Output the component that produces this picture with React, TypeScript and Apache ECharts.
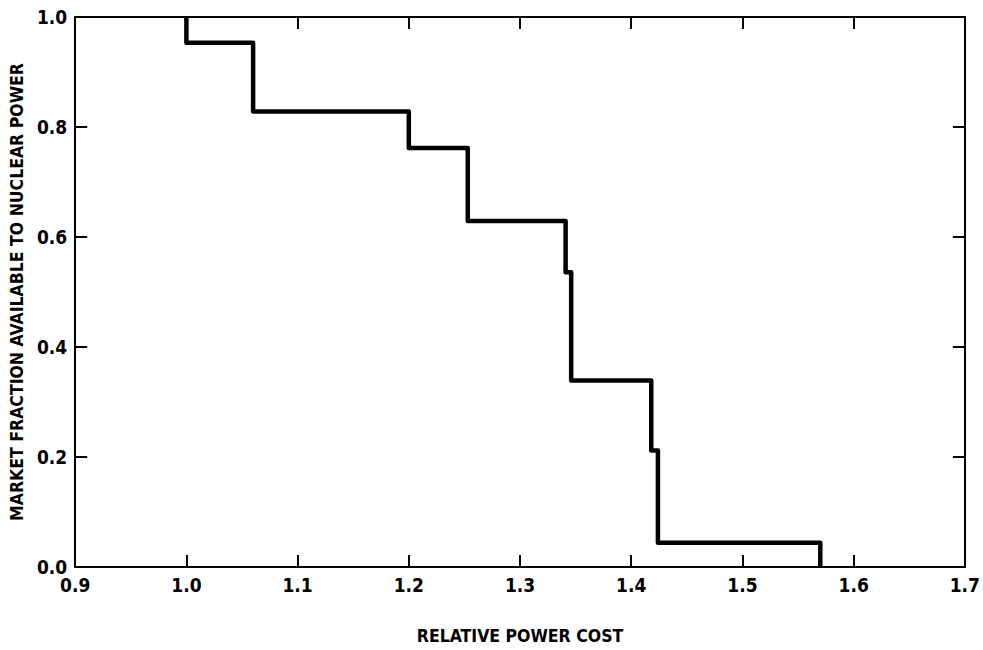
import React, { useEffect, useRef } from "react";
import * as echarts from "echarts";

// Step curve: relative power cost (x) vs market fraction available to nuclear power (y)
const costs = [1.0, 1.0, 1.06, 1.2, 1.253, 1.341, 1.346, 1.418, 1.424, 1.57];
const fractions = [1.0, 0.953, 0.828, 0.762, 0.629, 0.536, 0.339, 0.212, 0.044, 0.0];

const xTicks = ["0.9", "1.0", "1.1", "1.2", "1.3", "1.4", "1.5", "1.6", "1.7"];
const yTicks = ["0.0", "0.2", "0.4", "0.6", "0.8", "1.0"];

const xTitle = "RELATIVE POWER COST";
const yTitle = "MARKET FRACTION AVAILABLE TO NUCLEAR POWER";

const FONT = "'DejaVu Sans Condensed', 'Liberation Sans Narrow', 'DejaVu Sans', sans-serif";

export default function App() {
  const ref = useRef<HTMLDivElement>(null);
  useEffect(() => {
    if (!ref.current) return;
    const chart = echarts.init(ref.current, null, { renderer: "svg" });
    const axisLine = { show: true, onZero: false, lineStyle: { color: "#000", width: 2 } };
    const axisTick = { show: true, inside: true, length: 12, lineStyle: { color: "#000", width: 2 } };
    const labelStyle = { color: "#000", fontFamily: FONT, fontWeight: "bold" as const, fontSize: 19 };
    const titleStyle = { color: "#000", fontFamily: FONT, fontWeight: "bold" as const, fontSize: 17.5 };
    const fmt = (v: number) => v.toFixed(1);
    chart.setOption({
      animation: false,
      backgroundColor: "#fff",
      grid: { left: 72, right: 16, top: 17, bottom: 77, containLabel: false },
      xAxis: [
        {
          type: "value",
          position: "bottom",
          min: 0.9,
          max: 1.7,
          interval: 0.1,
          axisLine,
          axisTick,
          splitLine: { show: false },
          axisLabel: {
            ...labelStyle,
            margin: 8,
            formatter: (v: number) => {
              const s = fmt(v);
              return xTicks.includes(s) ? s : "";
            },
          },
          name: xTitle,
          nameLocation: "middle",
          nameGap: 60,
          nameTextStyle: titleStyle,
        },
        {
          type: "value",
          position: "top",
          min: 0.9,
          max: 1.7,
          interval: 0.1,
          axisLine,
          axisTick,
          axisLabel: { show: false },
          splitLine: { show: false },
        },
      ],
      yAxis: [
        {
          type: "value",
          position: "left",
          min: 0,
          max: 1,
          interval: 0.2,
          axisLine,
          axisTick,
          splitLine: { show: false },
          axisLabel: {
            ...labelStyle,
            margin: 8,
            formatter: (v: number) => {
              const s = fmt(v);
              return yTicks.includes(s) ? s : "";
            },
          },
          name: yTitle,
          nameLocation: "middle",
          nameGap: 44,
          nameTextStyle: titleStyle,
        },
        {
          type: "value",
          position: "right",
          min: 0,
          max: 1,
          interval: 0.2,
          axisLine,
          axisTick,
          axisLabel: { show: false },
          splitLine: { show: false },
        },
      ],
      series: [
        {
          type: "line",
          step: "end",
          xAxisIndex: 0,
          yAxisIndex: 0,
          data: costs.map((c, i) => [c, fractions[i]]),
          showSymbol: false,
          symbol: "none",
          lineStyle: { color: "#000", width: 4.5, join: "round" },
        },
      ],
    });
    return () => chart.dispose();
  }, []);
  return (
    <div
      ref={ref}
      style={{ position: "fixed", left: 0, top: 0, width: 983, height: 650 }}
    />
  );
}
